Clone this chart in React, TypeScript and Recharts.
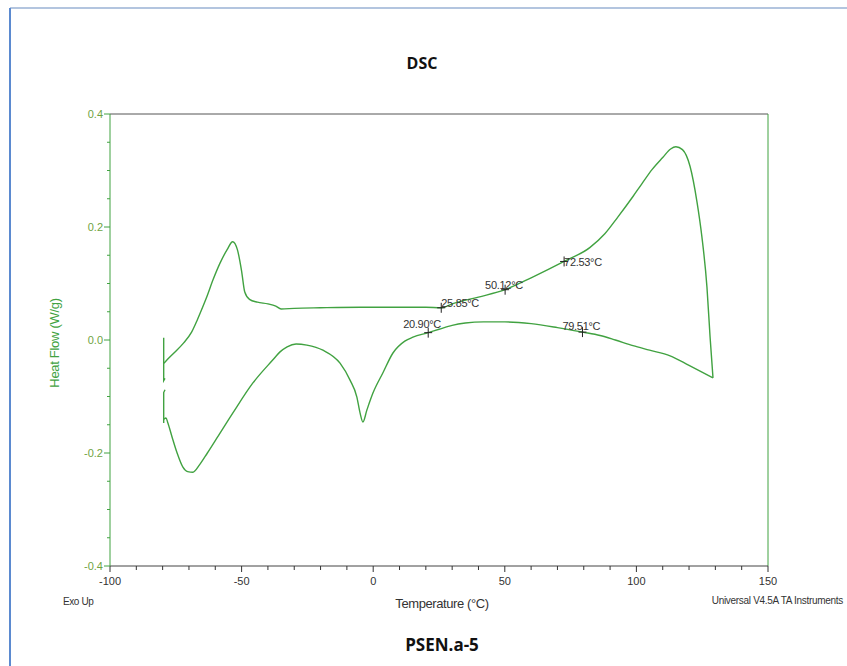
import React from "react";
import {
  ComposedChart,
  Line,
  XAxis,
  YAxis,
  ReferenceLine,
  ReferenceDot,
} from "recharts";

// temperature (°C) / heat flow (W/g)
const stubTop = [
  { t: -79.6, hf: 0.004 },
  { t: -79.6, hf: -0.072 },
  { t: -79.1, hf: -0.068 },
];

const stubBottom = [
  { t: -79.6, hf: -0.147 },
  { t: -79.6, hf: -0.093 },
  { t: -79.1, hf: -0.088 },
];

const heating = [
  { t: -79.5, hf: -0.041 },
  { t: -78.3, hf: -0.035 },
  { t: -75.5, hf: -0.022 },
  { t: -72.0, hf: -0.005 },
  { t: -69.0, hf: 0.014 },
  { t: -66.8, hf: 0.036 },
  { t: -65.0, hf: 0.056 },
  { t: -63.1, hf: 0.078 },
  { t: -60.9, hf: 0.106 },
  { t: -58.2, hf: 0.136 },
  { t: -55.5, hf: 0.16 },
  { t: -53.4, hf: 0.174 },
  { t: -51.6, hf: 0.16 },
  { t: -50.0, hf: 0.122 },
  { t: -48.8, hf: 0.085 },
  { t: -47.0, hf: 0.072 },
  { t: -44.0, hf: 0.067 },
  { t: -40.0, hf: 0.064 },
  { t: -37.0, hf: 0.06 },
  { t: -35.0, hf: 0.055 },
  { t: -30.0, hf: 0.056 },
  { t: -20.2, hf: 0.057 },
  { t: -5.0, hf: 0.058 },
  { t: 9.0, hf: 0.058 },
  { t: 20.0, hf: 0.058 },
  { t: 25.85, hf: 0.057 },
  { t: 30.0, hf: 0.064 },
  { t: 40.0, hf: 0.076 },
  { t: 50.12, hf: 0.089 },
  { t: 60.0, hf: 0.11 },
  { t: 72.53, hf: 0.139 },
  { t: 82.4, hf: 0.164 },
  { t: 88.0, hf: 0.188 },
  { t: 93.0, hf: 0.218 },
  { t: 98.7, hf: 0.254 },
  { t: 102.0, hf: 0.276 },
  { t: 106.0, hf: 0.302 },
  { t: 110.0, hf: 0.323 },
  { t: 113.0, hf: 0.338 },
  { t: 115.0, hf: 0.342 },
  { t: 117.5, hf: 0.337 },
  { t: 120.4, hf: 0.307 },
  { t: 123.0, hf: 0.245 },
  { t: 124.9, hf: 0.182 },
  { t: 126.8, hf: 0.094 },
  { t: 128.0, hf: 0.005 },
  { t: 129.1, hf: -0.067 },
];

const cooling = [
  { t: 129.1, hf: -0.067 },
  { t: 120.0, hf: -0.045 },
  { t: 112.8, hf: -0.028 },
  { t: 105.0, hf: -0.018 },
  { t: 98.7, hf: -0.01 },
  { t: 92.0, hf: 0.0 },
  { t: 86.2, hf: 0.008 },
  { t: 79.51, hf: 0.014 },
  { t: 70.0, hf: 0.022 },
  { t: 60.0, hf: 0.029 },
  { t: 50.0, hf: 0.032 },
  { t: 42.0, hf: 0.032 },
  { t: 35.0, hf: 0.03 },
  { t: 30.0, hf: 0.026 },
  { t: 25.0, hf: 0.019 },
  { t: 20.9, hf: 0.013 },
  { t: 15.1, hf: 0.005 },
  { t: 12.0, hf: -0.002 },
  { t: 7.5, hf: -0.023 },
  { t: 3.7, hf: -0.058 },
  { t: -0.1, hf: -0.094 },
  { t: -2.4, hf: -0.124 },
  { t: -3.9, hf: -0.145 },
  { t: -5.0, hf: -0.129 },
  { t: -6.2, hf: -0.101 },
  { t: -8.8, hf: -0.071 },
  { t: -12.6, hf: -0.041 },
  { t: -19.1, hf: -0.018 },
  { t: -25.2, hf: -0.009 },
  { t: -29.3, hf: -0.007 },
  { t: -32.7, hf: -0.012 },
  { t: -35.4, hf: -0.021 },
  { t: -38.1, hf: -0.035 },
  { t: -45.7, hf: -0.076 },
  { t: -53.3, hf: -0.129 },
  { t: -59.3, hf: -0.173 },
  { t: -63.0, hf: -0.2 },
  { t: -66.0, hf: -0.221 },
  { t: -68.5, hf: -0.234 },
  { t: -70.5, hf: -0.233 },
  { t: -72.3, hf: -0.225 },
  { t: -74.5, hf: -0.2 },
  { t: -76.4, hf: -0.172 },
  { t: -78.0, hf: -0.147 },
  { t: -78.7, hf: -0.138 },
  { t: -79.5, hf: -0.14 },
];

const markers = [
  { t: 25.85, hf: 0.057, label: "25.85°C" },
  { t: 50.12, hf: 0.089, label: "50.12°C" },
  { t: 72.53, hf: 0.139, label: "72.53°C" },
  { t: 20.9, hf: 0.013, label: "20.90°C" },
  { t: 79.51, hf: 0.014, label: "79.51°C" },
];

const xTicks = [
  -100, -90, -80, -70, -60, -50, -40, -30, -20, -10, 0, 10, 20, 30, 40, 50,
  60, 70, 80, 90, 100, 110, 120, 130, 140, 150,
];
const yTicks = [
  -0.4, -0.35, -0.3, -0.25, -0.2, -0.15, -0.1, -0.05, 0, 0.05, 0.1, 0.15, 0.2,
  0.25, 0.3, 0.35, 0.4,
];

// label placement relative to the cross (px)
const labelOffset: Record<string, [number, number]> = {
  "25.85°C": [0, -1],
  "50.12°C": [-20, -1],
  "72.53°C": [0, 5],
  "20.90°C": [-25, -5],
  "79.51°C": [-20, -2],
};

const GREEN = "#41a241";
const FONT = "'Liberation Sans', Arial, sans-serif";

const XTick = (props: any) => {
  const { x, y, payload } = props;
  const major = payload.value % 50 === 0;
  return (
    <g>
      <line x1={x} x2={x} y1={y} y2={y + (major ? 6 : 4)} stroke="#333" />
      {major && (
        <text
          x={x}
          y={y + 19}
          textAnchor="middle"
          fontSize={11}
          fontFamily={FONT}
          fill="#333"
        >
          {payload.value}
        </text>
      )}
    </g>
  );
};

const YTick = (props: any) => {
  const { x, y, payload } = props;
  const major = Math.round(payload.value * 100) % 20 === 0;
  return (
    <g>
      <line
        x1={x - (major ? 6 : 3)}
        x2={x}
        y1={y}
        y2={y}
        stroke={GREEN}
      />
      {major && (
        <text
          x={x - 7}
          y={y + 4}
          textAnchor="end"
          fontSize={11}
          fontFamily={FONT}
          fill="#6fa33f"
        >
          {payload.value.toFixed(1)}
        </text>
      )}
    </g>
  );
};

const Marker = (props: any) => {
  const { cx, cy, label } = props;
  const [dx, dy] = labelOffset[label] || [0, 0];
  return (
    <g>
      <line x1={cx - 4} x2={cx + 4} y1={cy} y2={cy} stroke="#222" />
      <line x1={cx} x2={cx} y1={cy - 5} y2={cy + 5} stroke="#222" />
      <text
        x={cx + dx}
        y={cy + dy}
        fontSize={11}
        fontFamily={FONT}
        fill="#333"
        letterSpacing={-0.3}
      >
        {label}
      </text>
    </g>
  );
};

export default function App() {
  return (
    <div
      style={{
        position: "absolute",
        left: 0,
        top: 0,
        width: 847,
        height: 666,
        background: "#fff",
      }}
    >
      <ComposedChart
        width={847}
        height={666}
        margin={{ top: 114, right: 79, left: 60, bottom: 70 }}
      >
        <XAxis
          type="number"
          dataKey="t"
          domain={[-100, 150]}
          ticks={xTicks}
          interval={0}
          allowDataOverflow
          tickSize={0}
          tickMargin={0}
          tick={<XTick />}
          tickLine={false}
          axisLine={{ stroke: "#444" }}
          height={30}
        />
        <YAxis
          type="number"
          dataKey="hf"
          domain={[-0.4, 0.4]}
          ticks={yTicks}
          interval={0}
          allowDataOverflow
          tickSize={0}
          tickMargin={0}
          tick={<YTick />}
          tickLine={false}
          axisLine={{ stroke: GREEN }}
          width={50}
        />
        <ReferenceLine y={0.4} stroke="#555" />
        <ReferenceLine x={150} stroke={GREEN} />
        <Line
          data={stubTop}
          dataKey="hf"
          stroke={GREEN}
          strokeWidth={1.4}
          dot={false}
          isAnimationActive={false}
        />
        <Line
          data={stubBottom}
          dataKey="hf"
          stroke={GREEN}
          strokeWidth={1.4}
          dot={false}
          isAnimationActive={false}
        />
        <Line
          data={heating}
          dataKey="hf"
          type="monotoneX"
          stroke={GREEN}
          strokeWidth={1.4}
          dot={false}
          isAnimationActive={false}
        />
        <Line
          data={cooling}
          dataKey="hf"
          type="monotoneX"
          stroke={GREEN}
          strokeWidth={1.4}
          dot={false}
          isAnimationActive={false}
        />
        {markers.map((m) => (
          <ReferenceDot
            key={m.label}
            x={m.t}
            y={m.hf}
            shape={(p: any) => <Marker {...p} label={m.label} />}
          />
        ))}
      </ComposedChart>
      <svg
        width={847}
        height={666}
        style={{ position: "absolute", left: 0, top: 0, pointerEvents: "none" }}
      >
        <line x1={10} x2={847} y1={8} y2={8} stroke="#b3c5df" strokeWidth={2} />
        <line x1={10} x2={10} y1={8} y2={666} stroke="#5b8ad0" strokeWidth={2} />
        <text
          x={422}
          y={69}
          textAnchor="middle"
          fontSize={16}
          fontWeight="bold"
          fontFamily="'Open Sans', sans-serif"
          fill="#111"
        >
          DSC
        </text>
        <text
          x={442}
          y={651}
          textAnchor="middle"
          fontSize={17}
          fontWeight="bold"
          fontFamily="'Open Sans', sans-serif"
          fill="#111"
        >
          PSEN.a-5
        </text>
        <text
          x={442}
          y={608}
          textAnchor="middle"
          fontSize={13}
          fontFamily={FONT}
          fill="#333"
          letterSpacing={-0.4}
        >
          Temperature (°C)
        </text>
        <text
          x={63}
          y={605}
          fontSize={10}
          fontFamily={FONT}
          fill="#333"
          letterSpacing={-0.4}
        >
          Exo Up
        </text>
        <text
          x={843}
          y={604}
          textAnchor="end"
          fontSize={10}
          fontFamily={FONT}
          fill="#333"
          letterSpacing={-0.3}
        >
          Universal V4.5A TA Instruments
        </text>
        <text
          x={59}
          y={343}
          textAnchor="middle"
          fontSize={13}
          fontFamily={FONT}
          fill={GREEN}
          letterSpacing={-0.3}
          transform="rotate(-90 59 343)"
        >
          Heat Flow (W/g)
        </text>
      </svg>
    </div>
  );
}
